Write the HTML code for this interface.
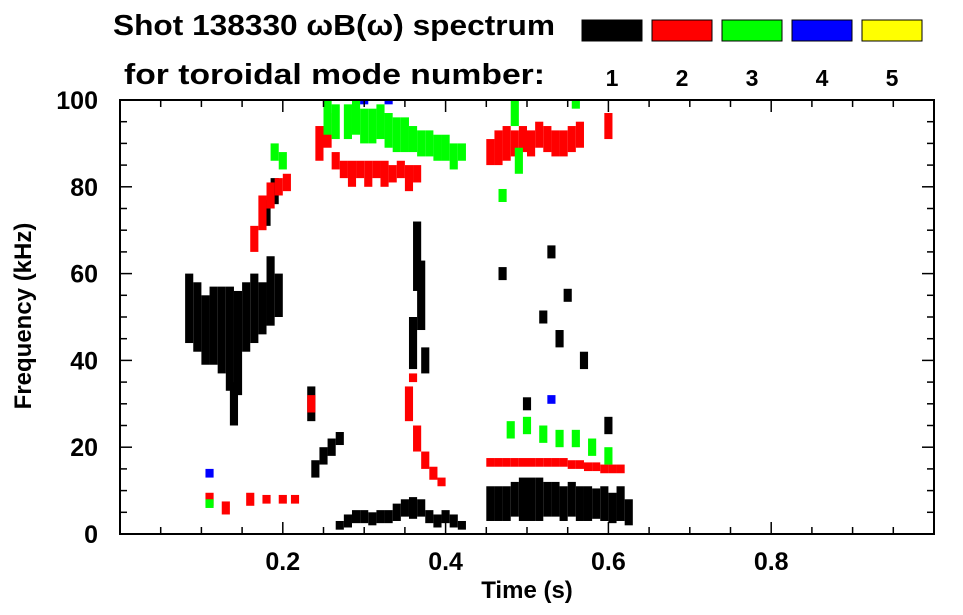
<!DOCTYPE html>
<html><head><meta charset="utf-8">
<style>
html,body{margin:0;padding:0;background:#fff;}
svg{display:block;font-family:"Liberation Sans",sans-serif;font-weight:bold;}
</style></head>
<body>
<svg id="chart" width="963" height="615" viewBox="0 0 963 615" xmlns="http://www.w3.org/2000/svg">
<rect width="963" height="615" fill="#fff"/>
<text x="113" y="35" font-size="29" textLength="442" lengthAdjust="spacingAndGlyphs">Shot 138330 ωB(ω) spectrum</text>
<text x="124" y="84" font-size="29" textLength="421" lengthAdjust="spacingAndGlyphs">for toroidal mode number:</text>
<g id="legend"></g>
<g id="marks"></g>
<g id="axes"></g>
<text x="527" y="598" font-size="24" text-anchor="middle">Time (s)</text>
<text transform="translate(31,316) rotate(-90)" font-size="24" text-anchor="middle">Frequency (kHz)</text>
</svg>
<script>
// Data: [time (s), centre frequency (kHz), half-width (kHz)]
const modeNumbers = [1, 2, 3, 4, 5];
const modeColors = ["#000000", "#ff0000", "#00ff00", "#0000ff", "#ffff00"];
const xTicks = [0.2, 0.4, 0.6, 0.8];
const yTicks = [0, 20, 40, 60, 80, 100];
const seriesN1 = [
 [0.085,52,8],[0.095,50,8],[0.105,47,8],[0.115,48,9],[0.125,47,10],[0.135,45,12],[0.145,44,12],
 [0.14,30,5],[0.155,50,8],[0.165,52,8],[0.175,52,6],[0.185,56,8],[0.195,55,5],[0.18,74,3],[0.19,79,3],
 [0.365,64,8],[0.37,55,8],[0.36,44,6],[0.375,40,3],
 [0.235,30,4],[0.24,15,2],[0.25,18,2],[0.26,20,2],[0.27,22,1.5],
 [0.27,2,1],[0.28,3,1.5],[0.29,4,1.5],[0.30,4,1.5],[0.31,3.5,1.5],[0.32,4,1.5],[0.33,4,1.5],[0.34,5,2],
 [0.35,6,2],[0.36,6,2.5],[0.37,6,2],[0.38,4,1.5],[0.39,3,1.5],[0.40,4,1.5],[0.41,3,1.5],[0.42,2,1],
 [0.455,7,4],[0.465,7,4],[0.475,7,4],[0.485,8,4],[0.495,8,5],[0.505,8,5],[0.515,8,5],[0.525,8,4],
 [0.535,8,4],[0.545,7,4],[0.555,8,4],[0.565,7,4],[0.575,7,4],[0.585,7,3.5],[0.595,7,4],[0.605,6,3.5],
 [0.615,7,4],[0.625,5,3],
 [0.53,65,1.5],[0.54,45,2],[0.55,55,1.5],[0.5,30,1.5],[0.57,40,2],[0.6,25,2],[0.47,60,1.5],[0.52,50,1.5]
];
const seriesN2 = [
 [0.165,68,3],[0.175,74,4],[0.185,78,3],[0.195,80,2],[0.205,81,2],
 [0.245,90,4],[0.255,93,4],[0.265,86,2],[0.275,84,2],[0.285,83,3],[0.295,84,2],[0.305,83,3],[0.315,84,2],
 [0.325,83,3],[0.335,83,2],[0.345,84,2],[0.355,82,3],[0.365,83,2],
 [0.455,88,3],[0.465,89,4],[0.475,90,4],[0.485,90,3],[0.495,91,3],[0.505,90,3],[0.515,92,3],[0.525,91,3],
 [0.535,90,3],[0.545,90,3],[0.555,91,3],[0.565,92,3],[0.6,94,3],
 [0.455,16.5,1],[0.465,16.5,1],[0.475,16.5,1],[0.485,16.5,1],[0.495,16.5,1],[0.505,16.5,1],[0.515,16.5,1],
 [0.525,16.5,1],[0.535,16.5,1],[0.545,16.5,1],[0.555,16,1],[0.565,16,1],[0.575,15.5,1],[0.585,15.5,1],
 [0.595,15,1],[0.605,15,1],[0.615,15,1],
 [0.355,30,4],[0.365,22,3],[0.375,17,2],[0.385,14,1.5],[0.395,12,1],
 [0.235,30,2],[0.11,8,1.5],[0.13,6,1.5],[0.16,8,1.5],[0.18,8,1],[0.2,8,1],[0.215,8,1],[0.36,36,1]
];
const seriesN3 = [
 [0.255,96,4],[0.265,95,4],[0.28,95,4],[0.29,96,4],[0.30,94,4],[0.31,94,4],[0.32,95,4],[0.33,93,4],
 [0.34,92,4],[0.35,92,4],[0.36,91,3],[0.37,90,3],[0.38,90,3],[0.39,89,3],[0.40,89,3],[0.41,87,3],[0.42,88,2],
 [0.19,88,2],[0.2,86,2],
 [0.48,24,2],[0.5,25,2],[0.52,23,2],[0.54,22,2],[0.56,22,2],[0.58,20,2],[0.6,18,2],
 [0.485,97,3],[0.49,86,3],[0.47,78,1.5],[0.56,99,1],[0.11,7,1]
];
const seriesN4 = [[0.3,100,1],[0.33,100,1],[0.53,31,1],[0.11,14,1]];
const seriesN5 = [];
const allSeries = [seriesN1, seriesN2, seriesN3, seriesN4, seriesN5];

const NS = "http://www.w3.org/2000/svg";
const X0 = 120, X1 = 934, Y0 = 534, Y1 = 100;
function xs(t){ return X0 + (t - 0) / (1 - 0) * (X1 - X0); }
function ys(f){ return Y0 - (f - 0) / (100 - 0) * (Y0 - Y1); }
function mk(tag, attrs, parent){
  const e = document.createElementNS(NS, tag);
  for (const k in attrs) e.setAttribute(k, attrs[k]);
  parent.appendChild(e); return e;
}

// legend
const lg = document.getElementById("legend");
modeNumbers.forEach((m, i) => {
  const r = mk("rect", {x: 582 + i*70, y: 20, width: 60, height: 21, fill: modeColors[i], stroke: "#000", "stroke-width": 1}, lg);
  
  
  const t = mk("text", {x: 612 + i*70, y: 86, "font-size": 23, "text-anchor": "middle"}, lg);
  t.textContent = m;
  
  
});

// marks
const mg = document.getElementById("marks");
allSeries.forEach((s, i) => {
  s.forEach(p => {
    const f0 = Math.max(0, p[1] - p[2]), f1 = Math.min(100, p[1] + p[2]);
    const x = xs(p[0] - 0.005), w = xs(p[0] + 0.005) - x;
    const r = mk("rect", {x: x, y: ys(f1), width: w, height: ys(f0) - ys(f1), fill: modeColors[i]}, mg);
    
    
  });
});

// axes
const ag = document.getElementById("axes");
const box = mk("rect", {x: X0, y: Y1, width: X1 - X0, height: Y0 - Y1, fill: "none", stroke: "#000", "stroke-width": 2}, ag);


for (let k = 1; k < 20; k++) {
  const t = k * 0.05, major = (k % 4 === 0), L = major ? 12 : 7;
  mk("line", {x1: xs(t), x2: xs(t), y1: Y0, y2: Y0 - L, stroke: "#000", "stroke-width": 1.5}, ag);
  mk("line", {x1: xs(t), x2: xs(t), y1: Y1, y2: Y1 + L, stroke: "#000", "stroke-width": 1.5}, ag);
}
for (let k = 1; k < 20; k++) {
  const f = k * 5, major = (k % 4 === 0), L = major ? 12 : 7;
  mk("line", {x1: X0, x2: X0 + L, y1: ys(f), y2: ys(f), stroke: "#000", "stroke-width": 1.5}, ag);
  mk("line", {x1: X1, x2: X1 - L, y1: ys(f), y2: ys(f), stroke: "#000", "stroke-width": 1.5}, ag);
}
xTicks.forEach(t => {
  const e = mk("text", {x: xs(t), y: 570, "font-size": 25, "text-anchor": "middle"}, ag);
  e.textContent = t.toFixed(1);
  
  
});
yTicks.forEach(f => {
  const e = mk("text", {x: 98, y: ys(f) + 9, "font-size": 25, "text-anchor": "end"}, ag);
  e.textContent = f;
  
  
});
</script>
</body></html>
